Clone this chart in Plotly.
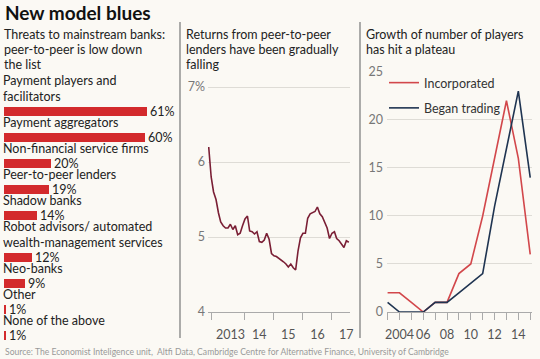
import plotly.graph_objects as go
import pandas as pd

# ---------------- data ----------------
threat_labels = [
    ["Payment players and", "facilitators"],
    ["Payment aggregators"],
    ["Non-financial service firms"],
    ["Peer-to-peer lenders"],
    ["Shadow banks"],
    ["Robot advisors/ automated", "wealth-management services"],
    ["Neo-banks"],
    ["Other"],
    ["None of the above"],
]
threat_pct = [61, 60, 20, 19, 14, 12, 9, 1, 1]

returns_start = "2012-10-01"
returns_pct = [
    6.2, 5.8, 5.6, 5.5, 5.32, 5.2, 5.15, 5.12, 5.12, 5.17, 5.10, 5.15,
    5.03, 5.05, 5.15, 5.24, 5.28, 5.08, 5.07, 5.04, 5.07, 4.94, 4.93, 4.96,
    5.05, 4.97, 4.78, 4.75, 4.74, 4.72, 4.69, 4.67, 4.64, 4.60, 4.64, 4.59,
    4.56, 4.82, 4.99, 5.05, 5.05, 5.25, 5.31, 5.33, 5.34, 5.40, 5.31, 5.27,
    5.19, 5.12, 4.98, 5.05, 5.07, 4.98, 4.95, 4.90, 4.86, 4.95, 4.93,
]
returns_ticks = ["2013", "14", "15", "16", "17"]

years = list(range(2003, 2016))
incorporated = [2, 2, 1, 0, 1, 1, 4, 5, 10, 16, 22, 16, 6]
began_trading = [1, 0, 0, 0, 1, 1, 2, 3, 4, 11, 17, 23, 14]
year_ticks = {2004: "2004", 2006: "06", 2008: "08", 2010: "10", 2012: "12", 2014: "14"}

subtitle_left = ["Threats to mainstream banks:", "peer-to-peer is low down", "the list"]
subtitle_mid = ["Returns from peer-to-peer", "lenders have been gradually", "falling"]
subtitle_right = ["Growth of number of players", "has hit a plateau"]

# ---------------- styling ----------------
W, H = 540, 359
BG = "#fbf9f4"
FONT = "Lato"
TXT = "#222222"
GRID = "#dedcd6"
BAR_RED = "#d32a2c"
LINE_RED = "#d2474b"
NAVY = "#1f3451"
MAROON = "#7a1f35"
LINE_H = 15.5


def px(x):
    return x / W


def py(y):
    return 1 - y / H


fig = go.Figure()

# ---- left panel: horizontal bars, positions derived from label line counts ----
centers = []
pos = 69.0
for lines in threat_labels:
    pos += 10 + 16 * len(lines)
    centers.append(pos)

fig.add_trace(go.Bar(
    x=threat_pct, y=centers, orientation="h",
    marker=dict(color=BAR_RED, line=dict(width=0)),
    width=9,
    text=[f"{v}%" for v in threat_pct],
    textposition="outside", constraintext="none", cliponaxis=False,
    textfont=dict(family=FONT, size=12.5, color=TXT),
    xaxis="x", yaxis="y", showlegend=False, hoverinfo="skip",
))
for lines, c in zip(threat_labels, centers):
    n = len(lines)
    for k, ln in enumerate(lines):
        fig.add_annotation(
            x=0, y=c - 15 - LINE_H * (n - 1 - k), xref="x", yref="y", text=ln,
            showarrow=False, xanchor="left", yanchor="middle", align="left",
            xshift=-2, borderpad=0,
            font=dict(family=FONT, size=12.5, color=TXT),
        )

# ---- middle panel: returns line ----
dates = pd.date_range(start=returns_start, periods=len(returns_pct), freq="MS")
fig.add_trace(go.Scatter(
    x=dates, y=returns_pct, mode="lines",
    line=dict(color=MAROON, width=1.6),
    xaxis="x2", yaxis="y2", showlegend=False, hoverinfo="skip",
))

# ---- right panel: players lines ----
fig.add_trace(go.Scatter(
    x=years, y=incorporated, mode="lines", name="Incorporated",
    line=dict(color=LINE_RED, width=1.6), legendgroup="a",
    xaxis="x3", yaxis="y3", hoverinfo="skip",
))
fig.add_trace(go.Scatter(
    x=years, y=began_trading, mode="lines", name="Began trading",
    line=dict(color=NAVY, width=1.6), legendgroup="b",
    xaxis="x3", yaxis="y3", hoverinfo="skip",
))

tickfont = dict(family=FONT, size=12.5, color="#555555")
ytickfont = dict(family=FONT, size=12.5, color="#777777")

mid_years = [f"{int(t) if len(t) == 4 else 2000 + int(t)}-07-01" for t in returns_ticks]
year_starts = ["2012-11-01", "2014-01-01", "2015-01-01", "2016-01-01", "2017-01-01"]

fig.update_layout(
    width=W, height=H,
    margin=dict(l=0, r=0, t=0, b=0, pad=0),
    paper_bgcolor=BG, plot_bgcolor=BG,
    bargap=0,
    xaxis=dict(domain=[px(4), px(175)], range=[0, 171 / 2.344], visible=False, fixedrange=True),
    yaxis=dict(domain=[0, 1], range=[H, 0], visible=False, fixedrange=True),
    xaxis2=dict(
        domain=[px(208), px(350)], anchor="y2", type="date",
        range=["2012-09-22", "2017-08-16"],
        tickmode="array", tickvals=mid_years, ticktext=returns_ticks,
        ticks="outside", ticklen=7, tickcolor="rgba(0,0,0,0)", ticklabelstandoff=4,
        tickfont=tickfont, showgrid=False, tickangle=0,
        showline=True, linecolor="#aaaaaa", linewidth=1,
        minor=dict(tickmode="array", tickvals=year_starts, ticks="outside",
                   ticklen=7, tickcolor="#aaaaaa", tickwidth=1, showgrid=False),
        zeroline=False, automargin=False,
    ),
    yaxis2=dict(
        domain=[py(312), py(85.5)], anchor="x2", range=[4, 7.02],
        tickmode="array", tickvals=[4, 5, 6, 7], ticktext=["4", "5", "6", "7%"],
        showgrid=True, gridcolor=GRID, gridwidth=1, zeroline=False,
        tickfont=ytickfont, ticks="", showline=False, automargin=False,
        ticklabelstandoff=2,
    ),
    xaxis3=dict(
        domain=[px(387), px(532)], anchor="y3",
        range=[2002.95, 2015.15],
        tickmode="array", tickvals=years,
        ticktext=[year_ticks.get(y, "") for y in years],
        ticks="outside", ticklen=7, tickcolor="#aaaaaa", tickwidth=1,
        ticklabelstandoff=4,
        tickfont=tickfont, showgrid=False, zeroline=False, tickangle=0,
        showline=True, linecolor="#aaaaaa", linewidth=1, automargin=False,
    ),
    yaxis3=dict(
        domain=[py(312), py(71)], anchor="x3", range=[0, 25.1],
        tickmode="array", tickvals=[0, 5, 10, 15, 20, 25],
        showgrid=True, gridcolor=GRID, gridwidth=1, zeroline=False,
        tickfont=ytickfont, ticks="", showline=False, automargin=False,
        ticklabelstandoff=3,
    ),
    legend=dict(
        x=px(384), y=py(68), xanchor="left", yanchor="top",
        bgcolor="rgba(0,0,0,0)", font=dict(family=FONT, size=12.5, color="#333333"),
        tracegroupgap=6, itemwidth=30,
    ),
    font=dict(family=FONT, color=TXT),
)

# ---- titles and text ----
fig.add_annotation(x=px(3), y=py(12), xref="paper", yref="paper",
                   text="<b>New model blues</b>", showarrow=False,
                   xanchor="left", yanchor="middle",
                   font=dict(family=FONT, size=19, color="#111111"))

for xx, lines in ((3, subtitle_left), (185, subtitle_mid), (365, subtitle_right)):
    for k, ln in enumerate(lines):
        fig.add_annotation(x=px(xx), y=py(34 + LINE_H * k), xref="paper", yref="paper",
                           text=ln, showarrow=False, xanchor="left", yanchor="middle",
                           borderpad=0, font=dict(family=FONT, size=12.5, color=TXT))

fig.add_annotation(
    x=px(3), y=py(352), xref="paper", yref="paper",
    text="Source: The Economist Inteligence unit,  Altfi Data, Cambridge Centre for Alternative Finance, University of Cambridge",
    showarrow=False, xanchor="left", yanchor="middle",
    font=dict(family=FONT, size=8.6, color="#999999"))

for sx in (180, 360):
    fig.add_shape(type="line", xref="paper", yref="paper",
                  x0=px(sx), x1=px(sx), y0=py(22), y1=py(338),
                  line=dict(color="#777777", width=1.2))

fig.write_html(
    "out.html",
    config={"displayModeBar": False},
    post_script="document.body.style.margin='0';document.body.style.overflow='hidden';",
)
